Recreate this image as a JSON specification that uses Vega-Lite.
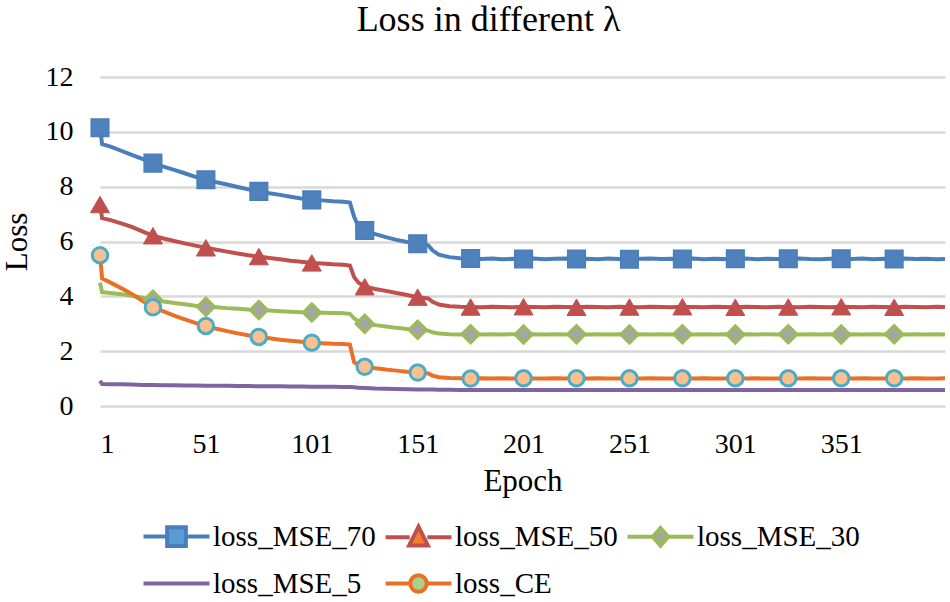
{
  "$schema": "https://vega.github.io/schema/vega-lite/v6.json",
  "width": 845,
  "height": 329,
  "autosize": {"type": "none"},
  "padding": {"left": 100, "top": 77, "right": 5, "bottom": 196},
  "background": "white",
  "title": {"text": "Loss in different λ", "font": "Liberation Serif", "fontSize": 36, "fontWeight": "normal", "color": "#000000", "offset": 24, "dx": -34, "anchor": "middle", "frame": "group"},
  "config": {
    "view": {"stroke": null},
    "axis": {"labelFont": "Liberation Serif", "titleFont": "Liberation Serif", "labelColor": "#000000", "titleColor": "#000000", "titleFontWeight": "normal", "labelFontSize": 28, "titleFontSize": 31}
  },
  "data": {"values": [
    {"e":1,"loss_MSE_70":10.15,"loss_MSE_50":7.35,"loss_MSE_30":4.5,"loss_MSE_5":0.92,"loss_CE":5.5},
    {"e":2,"loss_MSE_70":9.55,"loss_MSE_50":6.85,"loss_MSE_30":4.15,"loss_MSE_5":0.8,"loss_CE":4.65},
    {"e":6,"loss_MSE_70":9.46,"loss_MSE_50":6.78,"loss_MSE_30":4.12,"loss_MSE_5":0.79,"loss_CE":4.5},
    {"e":11,"loss_MSE_70":9.31,"loss_MSE_50":6.66,"loss_MSE_30":4.08,"loss_MSE_5":0.79,"loss_CE":4.3},
    {"e":16,"loss_MSE_70":9.16,"loss_MSE_50":6.53,"loss_MSE_30":4.02,"loss_MSE_5":0.78,"loss_CE":4.09},
    {"e":21,"loss_MSE_70":9.01,"loss_MSE_50":6.37,"loss_MSE_30":3.95,"loss_MSE_5":0.77,"loss_CE":3.84},
    {"e":26,"loss_MSE_70":8.86,"loss_MSE_50":6.21,"loss_MSE_30":3.87,"loss_MSE_5":0.77,"loss_CE":3.6},
    {"e":31,"loss_MSE_70":8.73,"loss_MSE_50":6.11,"loss_MSE_30":3.81,"loss_MSE_5":0.76,"loss_CE":3.45},
    {"e":36,"loss_MSE_70":8.61,"loss_MSE_50":6.02,"loss_MSE_30":3.76,"loss_MSE_5":0.76,"loss_CE":3.3},
    {"e":41,"loss_MSE_70":8.49,"loss_MSE_50":5.93,"loss_MSE_30":3.71,"loss_MSE_5":0.75,"loss_CE":3.16},
    {"e":46,"loss_MSE_70":8.36,"loss_MSE_50":5.85,"loss_MSE_30":3.66,"loss_MSE_5":0.75,"loss_CE":3.03},
    {"e":51,"loss_MSE_70":8.25,"loss_MSE_50":5.77,"loss_MSE_30":3.62,"loss_MSE_5":0.74,"loss_CE":2.92},
    {"e":56,"loss_MSE_70":8.16,"loss_MSE_50":5.7,"loss_MSE_30":3.6,"loss_MSE_5":0.74,"loss_CE":2.82},
    {"e":61,"loss_MSE_70":8.08,"loss_MSE_50":5.63,"loss_MSE_30":3.57,"loss_MSE_5":0.74,"loss_CE":2.73},
    {"e":66,"loss_MSE_70":7.99,"loss_MSE_50":5.56,"loss_MSE_30":3.55,"loss_MSE_5":0.73,"loss_CE":2.65},
    {"e":71,"loss_MSE_70":7.9,"loss_MSE_50":5.5,"loss_MSE_30":3.52,"loss_MSE_5":0.73,"loss_CE":2.58},
    {"e":76,"loss_MSE_70":7.83,"loss_MSE_50":5.45,"loss_MSE_30":3.5,"loss_MSE_5":0.72,"loss_CE":2.52},
    {"e":81,"loss_MSE_70":7.76,"loss_MSE_50":5.4,"loss_MSE_30":3.48,"loss_MSE_5":0.72,"loss_CE":2.47},
    {"e":86,"loss_MSE_70":7.7,"loss_MSE_50":5.35,"loss_MSE_30":3.46,"loss_MSE_5":0.72,"loss_CE":2.42},
    {"e":91,"loss_MSE_70":7.63,"loss_MSE_50":5.3,"loss_MSE_30":3.44,"loss_MSE_5":0.71,"loss_CE":2.38},
    {"e":96,"loss_MSE_70":7.57,"loss_MSE_50":5.26,"loss_MSE_30":3.42,"loss_MSE_5":0.71,"loss_CE":2.34},
    {"e":101,"loss_MSE_70":7.52,"loss_MSE_50":5.22,"loss_MSE_30":3.41,"loss_MSE_5":0.7,"loss_CE":2.31},
    {"e":106,"loss_MSE_70":7.5,"loss_MSE_50":5.2,"loss_MSE_30":3.4,"loss_MSE_5":0.7,"loss_CE":2.29},
    {"e":111,"loss_MSE_70":7.47,"loss_MSE_50":5.17,"loss_MSE_30":3.39,"loss_MSE_5":0.7,"loss_CE":2.27},
    {"e":116,"loss_MSE_70":7.45,"loss_MSE_50":5.15,"loss_MSE_30":3.38,"loss_MSE_5":0.69,"loss_CE":2.26},
    {"e":119,"loss_MSE_70":7.42,"loss_MSE_50":5.12,"loss_MSE_30":3.36,"loss_MSE_5":0.69,"loss_CE":2.24},
    {"e":121,"loss_MSE_70":6.9,"loss_MSE_50":4.7,"loss_MSE_30":3.2,"loss_MSE_5":0.68,"loss_CE":1.6},
    {"e":123,"loss_MSE_70":6.55,"loss_MSE_50":4.5,"loss_MSE_30":3.08,"loss_MSE_5":0.67,"loss_CE":1.5},
    {"e":126,"loss_MSE_70":6.4,"loss_MSE_50":4.35,"loss_MSE_30":3.0,"loss_MSE_5":0.66,"loss_CE":1.43},
    {"e":131,"loss_MSE_70":6.27,"loss_MSE_50":4.27,"loss_MSE_30":2.95,"loss_MSE_5":0.64,"loss_CE":1.38},
    {"e":136,"loss_MSE_70":6.16,"loss_MSE_50":4.2,"loss_MSE_30":2.9,"loss_MSE_5":0.63,"loss_CE":1.33},
    {"e":141,"loss_MSE_70":6.06,"loss_MSE_50":4.12,"loss_MSE_30":2.85,"loss_MSE_5":0.62,"loss_CE":1.29},
    {"e":146,"loss_MSE_70":5.98,"loss_MSE_50":4.05,"loss_MSE_30":2.81,"loss_MSE_5":0.61,"loss_CE":1.25},
    {"e":151,"loss_MSE_70":5.92,"loss_MSE_50":3.97,"loss_MSE_30":2.78,"loss_MSE_5":0.6,"loss_CE":1.22},
    {"e":156,"loss_MSE_70":5.86,"loss_MSE_50":3.92,"loss_MSE_30":2.75,"loss_MSE_5":0.6,"loss_CE":1.19},
    {"e":158,"loss_MSE_70":5.68,"loss_MSE_50":3.8,"loss_MSE_30":2.69,"loss_MSE_5":0.6,"loss_CE":1.11},
    {"e":161,"loss_MSE_70":5.52,"loss_MSE_50":3.7,"loss_MSE_30":2.64,"loss_MSE_5":0.59,"loss_CE":1.05},
    {"e":166,"loss_MSE_70":5.43,"loss_MSE_50":3.64,"loss_MSE_30":2.62,"loss_MSE_5":0.59,"loss_CE":1.02},
    {"e":171,"loss_MSE_70":5.39,"loss_MSE_50":3.62,"loss_MSE_30":2.61,"loss_MSE_5":0.58,"loss_CE":1.01},
    {"e":176,"loss_MSE_70":5.38,"loss_MSE_50":3.61,"loss_MSE_30":2.62,"loss_MSE_5":0.58,"loss_CE":1.0},
    {"e":181,"loss_MSE_70":5.36,"loss_MSE_50":3.6,"loss_MSE_30":2.61,"loss_MSE_5":0.58,"loss_CE":1.01},
    {"e":186,"loss_MSE_70":5.38,"loss_MSE_50":3.62,"loss_MSE_30":2.62,"loss_MSE_5":0.58,"loss_CE":1.0},
    {"e":191,"loss_MSE_70":5.35,"loss_MSE_50":3.61,"loss_MSE_30":2.61,"loss_MSE_5":0.58,"loss_CE":1.01},
    {"e":196,"loss_MSE_70":5.37,"loss_MSE_50":3.6,"loss_MSE_30":2.62,"loss_MSE_5":0.58,"loss_CE":1.0},
    {"e":201,"loss_MSE_70":5.36,"loss_MSE_50":3.62,"loss_MSE_30":2.61,"loss_MSE_5":0.58,"loss_CE":1.01},
    {"e":206,"loss_MSE_70":5.38,"loss_MSE_50":3.61,"loss_MSE_30":2.62,"loss_MSE_5":0.58,"loss_CE":1.0},
    {"e":211,"loss_MSE_70":5.35,"loss_MSE_50":3.6,"loss_MSE_30":2.61,"loss_MSE_5":0.58,"loss_CE":1.0},
    {"e":216,"loss_MSE_70":5.37,"loss_MSE_50":3.62,"loss_MSE_30":2.62,"loss_MSE_5":0.58,"loss_CE":1.01},
    {"e":221,"loss_MSE_70":5.38,"loss_MSE_50":3.61,"loss_MSE_30":2.61,"loss_MSE_5":0.58,"loss_CE":1.0},
    {"e":226,"loss_MSE_70":5.36,"loss_MSE_50":3.6,"loss_MSE_30":2.62,"loss_MSE_5":0.58,"loss_CE":1.01},
    {"e":231,"loss_MSE_70":5.37,"loss_MSE_50":3.62,"loss_MSE_30":2.61,"loss_MSE_5":0.58,"loss_CE":1.0},
    {"e":236,"loss_MSE_70":5.35,"loss_MSE_50":3.61,"loss_MSE_30":2.62,"loss_MSE_5":0.58,"loss_CE":1.01},
    {"e":241,"loss_MSE_70":5.38,"loss_MSE_50":3.6,"loss_MSE_30":2.61,"loss_MSE_5":0.58,"loss_CE":1.0},
    {"e":246,"loss_MSE_70":5.36,"loss_MSE_50":3.62,"loss_MSE_30":2.62,"loss_MSE_5":0.58,"loss_CE":1.0},
    {"e":251,"loss_MSE_70":5.35,"loss_MSE_50":3.61,"loss_MSE_30":2.61,"loss_MSE_5":0.58,"loss_CE":1.01},
    {"e":256,"loss_MSE_70":5.37,"loss_MSE_50":3.6,"loss_MSE_30":2.62,"loss_MSE_5":0.58,"loss_CE":1.0},
    {"e":261,"loss_MSE_70":5.38,"loss_MSE_50":3.62,"loss_MSE_30":2.61,"loss_MSE_5":0.58,"loss_CE":1.01},
    {"e":266,"loss_MSE_70":5.36,"loss_MSE_50":3.61,"loss_MSE_30":2.62,"loss_MSE_5":0.58,"loss_CE":1.0},
    {"e":271,"loss_MSE_70":5.37,"loss_MSE_50":3.6,"loss_MSE_30":2.61,"loss_MSE_5":0.58,"loss_CE":1.0},
    {"e":276,"loss_MSE_70":5.36,"loss_MSE_50":3.62,"loss_MSE_30":2.62,"loss_MSE_5":0.58,"loss_CE":1.01},
    {"e":281,"loss_MSE_70":5.38,"loss_MSE_50":3.61,"loss_MSE_30":2.61,"loss_MSE_5":0.58,"loss_CE":1.0},
    {"e":286,"loss_MSE_70":5.35,"loss_MSE_50":3.6,"loss_MSE_30":2.62,"loss_MSE_5":0.58,"loss_CE":1.01},
    {"e":291,"loss_MSE_70":5.37,"loss_MSE_50":3.62,"loss_MSE_30":2.61,"loss_MSE_5":0.58,"loss_CE":1.0},
    {"e":296,"loss_MSE_70":5.36,"loss_MSE_50":3.61,"loss_MSE_30":2.62,"loss_MSE_5":0.58,"loss_CE":1.0},
    {"e":301,"loss_MSE_70":5.37,"loss_MSE_50":3.6,"loss_MSE_30":2.61,"loss_MSE_5":0.58,"loss_CE":1.01},
    {"e":306,"loss_MSE_70":5.38,"loss_MSE_50":3.62,"loss_MSE_30":2.62,"loss_MSE_5":0.58,"loss_CE":1.0},
    {"e":311,"loss_MSE_70":5.35,"loss_MSE_50":3.61,"loss_MSE_30":2.61,"loss_MSE_5":0.58,"loss_CE":1.01},
    {"e":316,"loss_MSE_70":5.37,"loss_MSE_50":3.6,"loss_MSE_30":2.62,"loss_MSE_5":0.58,"loss_CE":1.0},
    {"e":321,"loss_MSE_70":5.36,"loss_MSE_50":3.62,"loss_MSE_30":2.61,"loss_MSE_5":0.58,"loss_CE":1.0},
    {"e":326,"loss_MSE_70":5.37,"loss_MSE_50":3.61,"loss_MSE_30":2.62,"loss_MSE_5":0.58,"loss_CE":1.01},
    {"e":331,"loss_MSE_70":5.38,"loss_MSE_50":3.6,"loss_MSE_30":2.61,"loss_MSE_5":0.58,"loss_CE":1.0},
    {"e":336,"loss_MSE_70":5.36,"loss_MSE_50":3.62,"loss_MSE_30":2.62,"loss_MSE_5":0.58,"loss_CE":1.01},
    {"e":341,"loss_MSE_70":5.35,"loss_MSE_50":3.61,"loss_MSE_30":2.61,"loss_MSE_5":0.58,"loss_CE":1.0},
    {"e":346,"loss_MSE_70":5.37,"loss_MSE_50":3.6,"loss_MSE_30":2.62,"loss_MSE_5":0.58,"loss_CE":1.0},
    {"e":351,"loss_MSE_70":5.37,"loss_MSE_50":3.62,"loss_MSE_30":2.61,"loss_MSE_5":0.58,"loss_CE":1.01},
    {"e":356,"loss_MSE_70":5.36,"loss_MSE_50":3.61,"loss_MSE_30":2.62,"loss_MSE_5":0.58,"loss_CE":1.0},
    {"e":361,"loss_MSE_70":5.38,"loss_MSE_50":3.6,"loss_MSE_30":2.61,"loss_MSE_5":0.58,"loss_CE":1.01},
    {"e":366,"loss_MSE_70":5.35,"loss_MSE_50":3.62,"loss_MSE_30":2.62,"loss_MSE_5":0.58,"loss_CE":1.0},
    {"e":371,"loss_MSE_70":5.37,"loss_MSE_50":3.61,"loss_MSE_30":2.61,"loss_MSE_5":0.58,"loss_CE":1.0},
    {"e":376,"loss_MSE_70":5.36,"loss_MSE_50":3.6,"loss_MSE_30":2.62,"loss_MSE_5":0.58,"loss_CE":1.01},
    {"e":381,"loss_MSE_70":5.38,"loss_MSE_50":3.62,"loss_MSE_30":2.61,"loss_MSE_5":0.58,"loss_CE":1.0},
    {"e":386,"loss_MSE_70":5.36,"loss_MSE_50":3.61,"loss_MSE_30":2.62,"loss_MSE_5":0.58,"loss_CE":1.01},
    {"e":391,"loss_MSE_70":5.37,"loss_MSE_50":3.6,"loss_MSE_30":2.61,"loss_MSE_5":0.58,"loss_CE":1.0},
    {"e":396,"loss_MSE_70":5.35,"loss_MSE_50":3.62,"loss_MSE_30":2.62,"loss_MSE_5":0.58,"loss_CE":1.0},
    {"e":400,"loss_MSE_70":5.36,"loss_MSE_50":3.61,"loss_MSE_30":2.61,"loss_MSE_5":0.58,"loss_CE":1.01}
  ]},
  "transform": [
    {"fold": ["loss_MSE_70", "loss_MSE_50", "loss_MSE_30", "loss_MSE_5", "loss_CE"], "as": ["series", "loss"]}
  ],
  "encoding": {
    "x": {"field": "e", "type": "quantitative", "scale": {"domain": [1, 400], "nice": false, "zero": false},
      "axis": {"values": [1, 51, 101, 151, 201, 251, 301, 351], "title": "Epoch", "grid": false, "domain": false, "ticks": false, "labelPadding": 24, "titlePadding": 8, "labelOverlap": false}},
    "y": {"field": "loss", "type": "quantitative", "scale": {"domain": [0, 12], "nice": false},
      "axis": {"values": [0, 2, 4, 6, 8, 10, 12], "title": "Loss", "grid": true, "gridColor": "#D9D9D9", "gridWidth": 2.5, "domain": false, "ticks": false, "labelPadding": 27, "titlePadding": 12}}
  },
  "layer": [
    {
      "mark": {"type": "line", "strokeWidth": 4},
      "encoding": {
        "color": {"field": "series", "type": "nominal",
          "scale": {"domain": ["loss_MSE_70", "loss_MSE_50", "loss_MSE_30", "loss_MSE_5", "loss_CE"], "range": ["#4A7EBB", "#C0504D", "#9BBB59", "#8064A2", "#EA7028"]},
          "legend": {
            "orient": "none", "legendX": 42, "legendY": 445, "direction": "horizontal", "columns": 3, "title": null,
            "symbolSize": 484, "symbolStrokeWidth": 4, "symbolOffset": 20, "labelOffset": 22,
            "labelFont": "Liberation Serif", "labelFontSize": 29, "labelColor": "#000000", "labelLimit": 400,
            "columnPadding": 1, "rowPadding": 13, "padding": 0,
            "encode": {"symbols": {"update": {
              "shape": {"signal": "datum.value === 'loss_MSE_70' ? 'M-3,0H-0.85M0.85,0H3M-0.85,-0.85H0.85V0.85H-0.85Z' : datum.value === 'loss_MSE_50' ? 'M-3,0H-0.8M0.8,0H3M0,-0.95L0.85,0.75H-0.85Z' : datum.value === 'loss_MSE_30' ? 'M-3,0H-0.7M0.7,0H3M0,-0.8L0.7,0L0,0.8L-0.7,0Z' : datum.value === 'loss_CE' ? 'M-3,0H-0.75M0.75,0H3M-0.75,0A0.75,0.75,0,1,0,0.75,0A0.75,0.75,0,1,0,-0.75,0Z' : 'M-3,0H3'"},
              "fill": {"signal": "datum.value === 'loss_MSE_70' ? '#5B9BD5' : datum.value === 'loss_MSE_50' ? '#F07F2E' : datum.value === 'loss_MSE_30' ? '#A5A5A5' : datum.value === 'loss_CE' ? '#A9D18E' : 'transparent'"}
            }}}
          }
        }
      }
    },
    {
      "transform": [{"filter": "datum.series === 'loss_MSE_70' && indexof([1,26,51,76,101,126,151,176,201,226,251,276,301,326,351,376], datum.e) >= 0"}],
      "mark": {"type": "point", "shape": "square", "filled": true, "fill": "#4F81BD", "stroke": "#4A7EBB", "strokeWidth": 1.5, "size": 310, "opacity": 1}
    },
    {
      "transform": [{"filter": "datum.series === 'loss_MSE_50' && indexof([1,26,51,76,101,126,151,176,201,226,251,276,301,326,351,376], datum.e) >= 0"}],
      "mark": {"type": "point", "shape": "triangle-up", "filled": true, "fill": "#C0504D", "stroke": "#C0504D", "strokeWidth": 1, "size": 360, "opacity": 1}
    },
    {
      "transform": [{"filter": "datum.series === 'loss_MSE_30' && indexof([26,51,76,101,126,151,176,201,226,251,276,301,326,351,376], datum.e) >= 0"}],
      "mark": {"type": "point", "shape": "diamond", "filled": true, "fill": "#A5A5A5", "stroke": "#9BBB59", "strokeWidth": 3, "size": 300, "opacity": 1}
    },
    {
      "transform": [{"filter": "datum.series === 'loss_CE' && indexof([1,26,51,76,101,126,151,176,201,226,251,276,301,326,351,376], datum.e) >= 0"}],
      "mark": {"type": "point", "shape": "circle", "filled": true, "fill": "#FAC090", "stroke": "#4BACC6", "strokeWidth": 3, "size": 240, "opacity": 1}
    }
  ]
}
